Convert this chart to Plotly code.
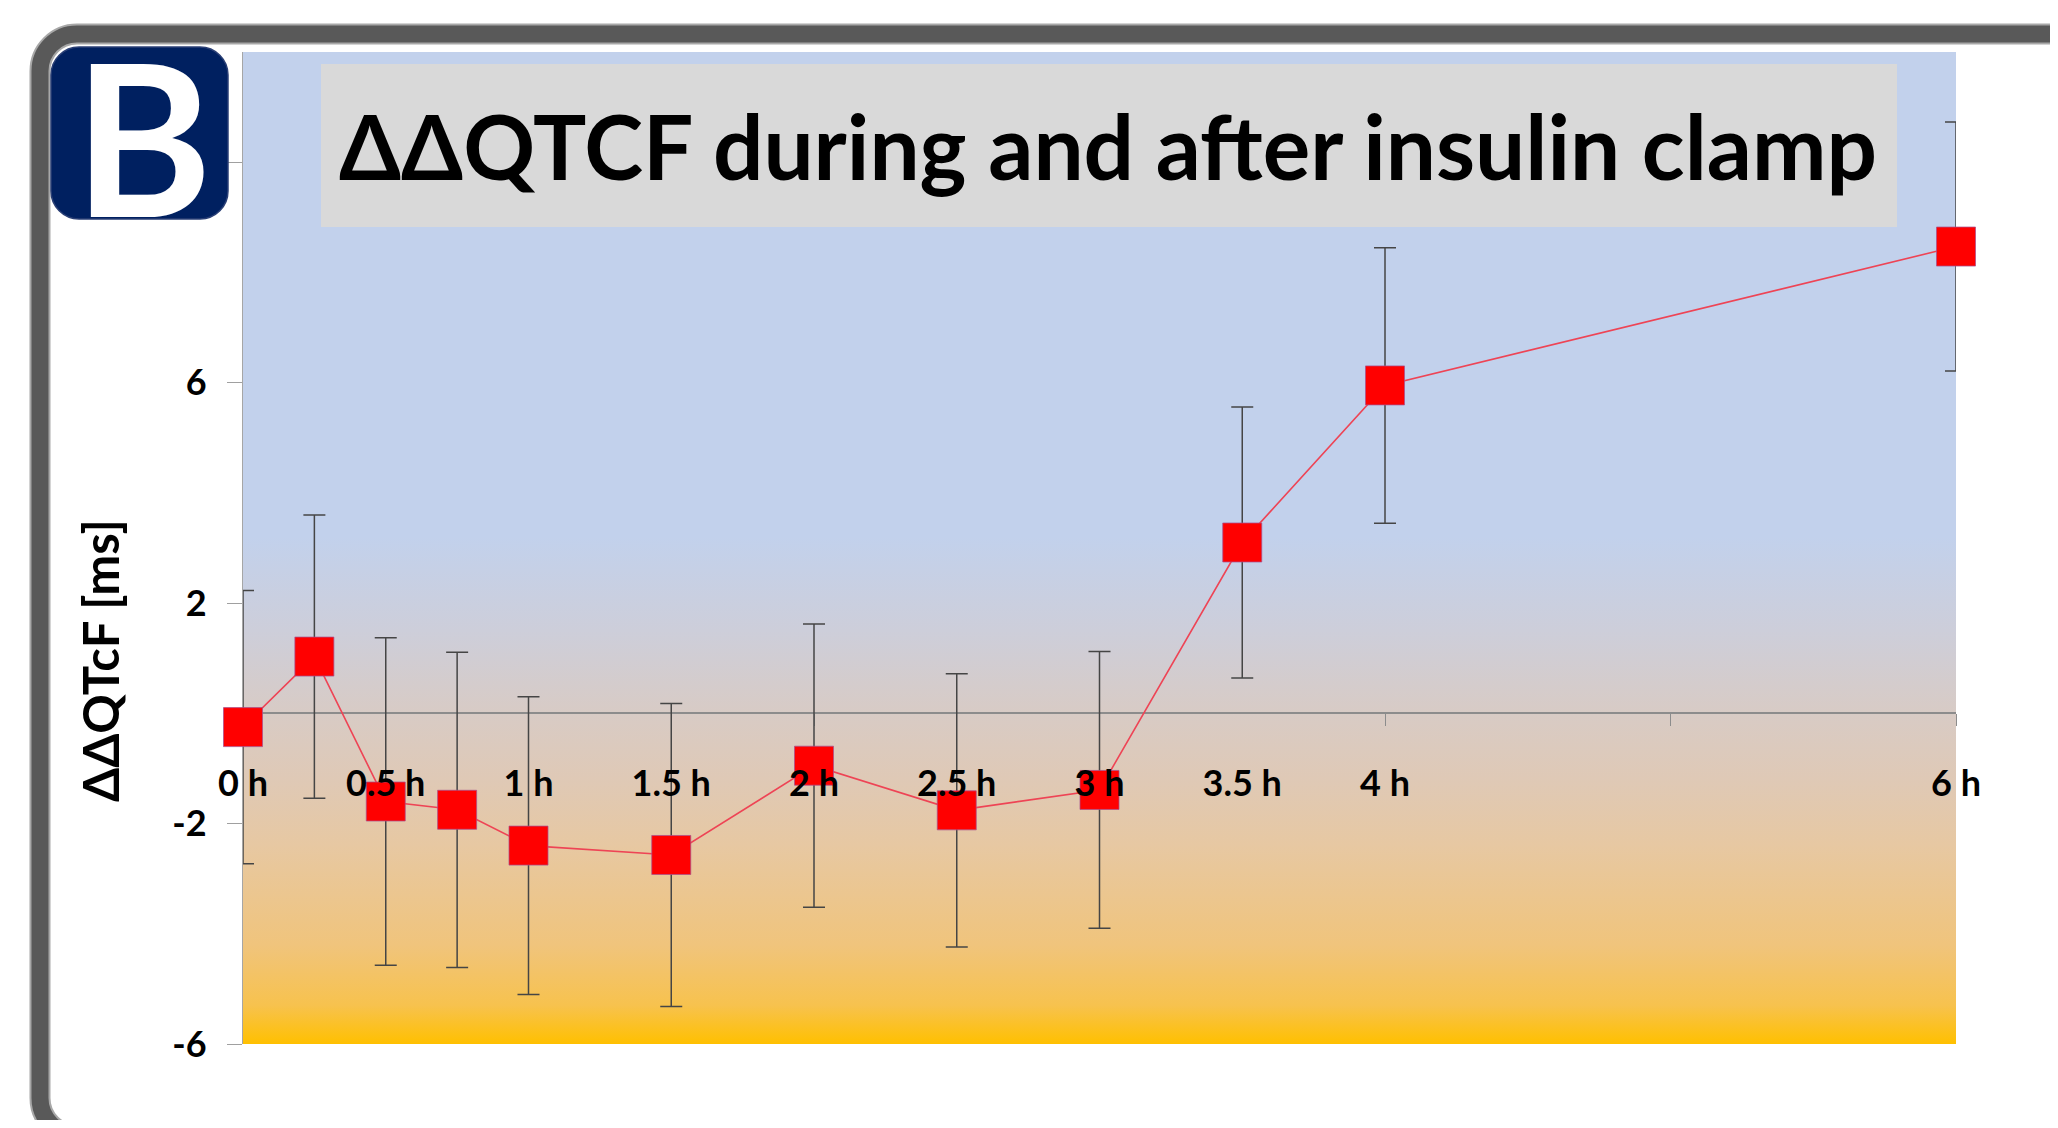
import base64
import plotly.graph_objects as go

# ---------------- data ----------------
hours = [0, 0.25, 0.5, 0.75, 1, 1.5, 2, 2.5, 3, 3.5, 4, 6]
ddqtcf_mean = [-0.25, 1.03, -1.60, -1.75, -2.40, -2.57, -0.95, -1.76, -1.39, 3.10, 5.95, 8.47]
ddqtcf_err = [2.48, 2.57, 2.97, 2.86, 2.70, 2.75, 2.57, 2.48, 2.51, 2.46, 2.50, 2.26]

x_label_vals = [0, 0.5, 1, 1.5, 2, 2.5, 3, 3.5, 4, 6]
x_label_text = ["0 h", "0.5 h", "1 h", "1.5 h", "2 h", "2.5 h", "3 h", "3.5 h", "4 h", "6 h"]
x_mark_vals = [0, 1, 2, 3, 4, 5, 6]
y_tick_vals = [-6, -2, 2, 6, 10]
y_tick_text = ["-6", "-2", "2", "6", ""]   # the "10" label is hidden behind the panel badge

title_text = "ΔΔQTCF during and after insulin clamp"
y_title_text = "ΔΔQTcF [ms]"
panel_letter = "B"

# ---------------- layout geometry (screen pixels) ----------------
PAGE_OFF = 8                    # default body margin of the html page
SCREEN_W, SCREEN_H = 2058, 1128
W, H = SCREEN_W - 2 * PAGE_OFF, SCREEN_H - 2 * PAGE_OFF
PLOT_L, PLOT_R, PLOT_T, PLOT_B = 243, 1956, 52, 1044   # plot area on screen
PW, PH = PLOT_R - PLOT_L, PLOT_B - PLOT_T
X_RANGE = [0, 6]
Y_RANGE = [-6, 12]
FONT = "Lato"


def xp(px):
    return (px - PLOT_L) / PW


def yp(py):
    return (PLOT_B - py) / PH


def rrect_path(x0, y0, x1, y1, r):
    k = 0.5523 * r
    pts = [
        ("M", [(x0 + r, y0)]),
        ("L", [(x1 - r, y0)]),
        ("C", [(x1 - r + k, y0), (x1, y0 + r - k), (x1, y0 + r)]),
        ("L", [(x1, y1 - r)]),
        ("C", [(x1, y1 - r + k), (x1 - r + k, y1), (x1 - r, y1)]),
        ("L", [(x0 + r, y1)]),
        ("C", [(x0 + r - k, y1), (x0, y1 - r + k), (x0, y1 - r)]),
        ("L", [(x0, y0 + r)]),
        ("C", [(x0, y0 + r - k), (x0 + r - k, y0), (x0 + r, y0)]),
    ]
    s = ""
    for cmd, ps in pts:
        s += cmd + " ".join(f"{xp(a):.5f},{yp(b):.5f}" for a, b in ps) + " "
    return s + "Z"


# vertical background gradient (top -> bottom) as an SVG data image
grad_stops = [
    (0.000, "#C2D1EC"),
    (0.489, "#C2D1EC"),
    (0.583, "#CDCEDA"),
    (0.667, "#D8CBC5"),
    (0.733, "#DFC9B6"),
    (0.800, "#E7C8A2"),
    (0.900, "#F0C47C"),
    (0.961, "#F7C24E"),
    (1.000, "#FFC000"),
]
stops_svg = "".join(f'<stop offset="{o}" stop-color="{c}"/>' for o, c in grad_stops)
svg = (
    '<svg xmlns="http://www.w3.org/2000/svg" width="100" height="1000" '
    'preserveAspectRatio="none"><defs><linearGradient id="g" x1="0" y1="0" x2="0" y2="1">'
    + stops_svg
    + '</linearGradient></defs><rect width="100" height="1000" fill="url(#g)"/></svg>'
)
bg_uri = "data:image/svg+xml;base64," + base64.b64encode(svg.encode()).decode()

zero_pos = (0 - Y_RANGE[0]) / (Y_RANGE[1] - Y_RANGE[0])

fig = go.Figure()

fig.add_trace(
    go.Scatter(
        x=hours,
        y=ddqtcf_mean,
        mode="lines+markers",
        line=dict(color="#EE4455", width=1.6),
        marker=dict(symbol="square", size=39, color="#FF0000",
                    line=dict(color="rgba(170,80,140,0.75)", width=1)),
        error_y=dict(type="data", array=ddqtcf_err, visible=True,
                     color="#454545", thickness=1.5, width=11),
        cliponaxis=False,
        hoverinfo="x+y",
        showlegend=False,
    )
)
# invisible companion on the label axis so it is created
fig.add_trace(
    go.Scatter(x=hours, y=ddqtcf_mean, xaxis="x2", mode="markers",
               marker=dict(opacity=0), hoverinfo="skip", showlegend=False)
)

fig.update_layout(
    width=W,
    height=H,
    margin=dict(l=PLOT_L - PAGE_OFF, r=W - (PLOT_R - PAGE_OFF),
                t=PLOT_T - PAGE_OFF, b=H - (PLOT_B - PAGE_OFF), pad=0),
    paper_bgcolor="white",
    plot_bgcolor="rgba(0,0,0,0)",
    font=dict(family=FONT, color="black"),
    xaxis=dict(
        range=X_RANGE, anchor="free", position=zero_pos,
        tickmode="array", tickvals=x_mark_vals, ticks="outside", ticklen=12,
        tickcolor="#8C8C8C", tickwidth=1.3, showticklabels=False,
        showline=False, showgrid=False, zeroline=False, layer="below traces",
        fixedrange=True,
    ),
    xaxis2=dict(
        range=X_RANGE, overlaying="x", anchor="free", position=zero_pos,
        tickmode="array", tickvals=x_label_vals, ticktext=x_label_text, ticks="",
        ticklabelstandoff=46,
        tickfont=dict(family=FONT, size=36, weight=700, color="black"),
        showline=False, showgrid=False, zeroline=False, layer="above traces",
        fixedrange=True,
    ),
    yaxis=dict(
        range=Y_RANGE, tickmode="array", tickvals=y_tick_vals, ticktext=y_tick_text,
        ticks="outside", ticklen=15, tickcolor="#A0A0A0", tickwidth=1.3,
        ticklabelstandoff=13,
        tickfont=dict(family=FONT, size=36, weight=700, color="black"),
        showline=True, linecolor="#A6A6A6", linewidth=1.3,
        zeroline=True, zerolinecolor="#8C8C8C", zerolinewidth=1.6,
        showgrid=False, layer="below traces", fixedrange=True,
    ),
)

fig.add_layout_image(
    dict(source=bg_uri, xref="x", yref="y", x=X_RANGE[0], y=Y_RANGE[1],
         sizex=X_RANGE[1] - X_RANGE[0], sizey=Y_RANGE[1] - Y_RANGE[0],
         sizing="stretch", layer="below", xanchor="left", yanchor="top")
)

shapes = [
    # outer frame (light edge + dark body)
    dict(type="path", xref="paper", yref="paper", path=rrect_path(40, 34, 2200, 1135, 37),
         line=dict(color="#A8A8A8", width=21), fillcolor="rgba(0,0,0,0)", layer="above"),
    dict(type="path", xref="paper", yref="paper", path=rrect_path(40, 34, 2200, 1135, 37),
         line=dict(color="#595959", width=17), fillcolor="rgba(0,0,0,0)", layer="above"),
    # title box
    dict(type="rect", xref="paper", yref="paper", x0=xp(321), x1=xp(1897), y0=yp(227), y1=yp(64),
         fillcolor="#D9D9D9", line=dict(width=0), layer="above"),
    # panel badge
    dict(type="path", xref="paper", yref="paper", path=rrect_path(51, 47, 228, 219, 28),
         fillcolor="#002060", line=dict(color="#2A3F75", width=1.5), layer="above"),
]
fig.update_layout(shapes=shapes)

fig.add_annotation(x=xp(1108), y=yp(146), xref="paper", yref="paper", text=title_text,
                   showarrow=False, xanchor="center", yanchor="middle",
                   font=dict(family=FONT, size=89, weight=700, color="black"))
fig.add_annotation(x=xp(143), y=yp(136), xref="paper", yref="paper", text=panel_letter,
                   showarrow=False, xanchor="center", yanchor="middle",
                   font=dict(family=FONT, size=210, weight=700, color="white"))
fig.add_annotation(x=xp(100), y=yp(661), xref="paper", yref="paper", text=y_title_text,
                   showarrow=False, xanchor="center", yanchor="middle", textangle=-90,
                   font=dict(family=FONT, size=49, weight=700, color="black"))

fig.write_html("out.html")
